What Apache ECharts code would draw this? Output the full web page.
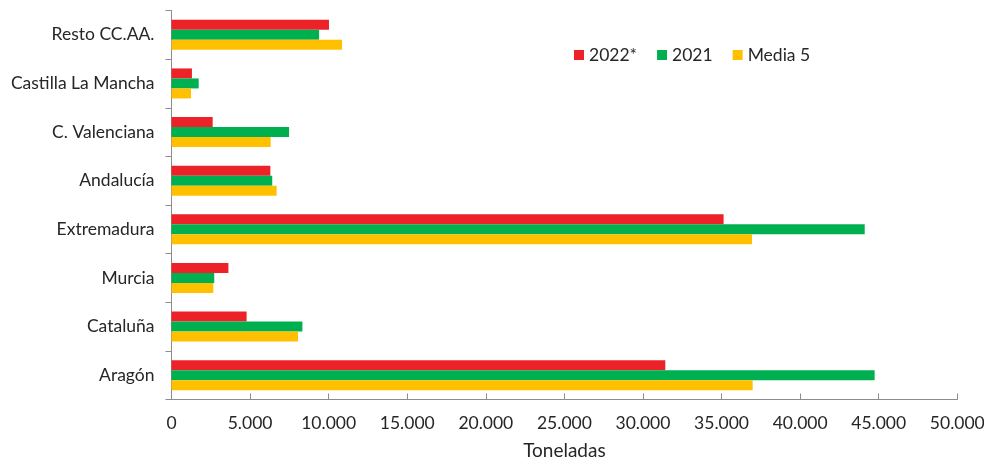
<!DOCTYPE html>
<html>
<head>
<meta charset="utf-8">
<script src="https://cdn.jsdelivr.net/npm/echarts@6/dist/echarts.min.js"></script>
<style>
html,body{margin:0;padding:0;background:#fff;}
#chart{width:984px;height:459px;}
</style>
</head>
<body>
<div id="chart"></div>
<script>
// Categories, bottom to top
var categories = ['Aragón', 'Cataluña', 'Murcia', 'Extremadura', 'Andalucía', 'C. Valenciana', 'Castilla La Mancha', 'Resto CC.AA.'];
var seriesNames = ['2022*', '2021', 'Media 5'];
var values2022 = [31420, 4780, 3620, 35130, 6290, 2620, 1300, 10020];
var values2021 = [44740, 8330, 2720, 44110, 6410, 7480, 1730, 9390];
var valuesMedia5 = [36980, 8050, 2660, 36940, 6690, 6310, 1240, 10850];
var xMin = 0, xMax = 50000, xInterval = 5000;

var FONT = 'Lato';
var FS = 17.5;
var TXT = '#262626';
var AXIS = '#8c8c8c';

function fmt(v) {
  return String(v).replace(/\B(?=(\d{3})+(?!\d))/g, '.');
}

var chart = echarts.init(document.getElementById('chart'), null, {renderer: 'canvas'});
chart.setOption({
  animation: false,
  backgroundColor: '#ffffff',
  textStyle: {fontFamily: FONT, color: TXT},
  legend: {
    data: seriesNames,
    left: 569,
    top: 41,
    itemWidth: 10,
    itemHeight: 10,
    itemGap: 20,
    icon: 'rect',
    textStyle: {fontFamily: FONT, fontSize: FS, color: TXT}
  },
  grid: {left: 171.5, right: 26.7, top: 10.5, bottom: 59.5, containLabel: false, outerBoundsMode: 'none'},
  xAxis: {
    type: 'value',
    min: xMin, max: xMax, interval: xInterval,
    name: 'Toneladas',
    nameLocation: 'middle',
    nameGap: 42,
    nameTextStyle: {fontFamily: FONT, fontSize: 19, color: TXT},
    axisLine: {show: true, lineStyle: {color: AXIS, width: 1}},
    axisTick: {show: true, inside: true, length: 6, lineStyle: {color: AXIS}},
    splitLine: {show: false},
    axisLabel: {fontFamily: FONT, fontSize: FS, color: TXT, margin: 15, formatter: fmt}
  },
  yAxis: {
    type: 'category',
    data: categories,
    axisLine: {show: true, lineStyle: {color: AXIS, width: 1}},
    axisTick: {show: true, length: 6, alignWithLabel: false, lineStyle: {color: AXIS}},
    axisLabel: {fontFamily: FONT, fontSize: FS, color: TXT, margin: 17}
  },
  series: [
    {name: '2022*', type: 'bar', data: values2022, barWidth: 10, barGap: '0%', itemStyle: {color: '#ED2228'}},
    {name: '2021', type: 'bar', data: values2021, barWidth: 10, barGap: '0%', itemStyle: {color: '#00B050'}},
    {name: 'Media 5', type: 'bar', data: valuesMedia5, barWidth: 10, barGap: '0%', itemStyle: {color: '#FFC000'}}
  ]
});
</script>
</body>
</html>
